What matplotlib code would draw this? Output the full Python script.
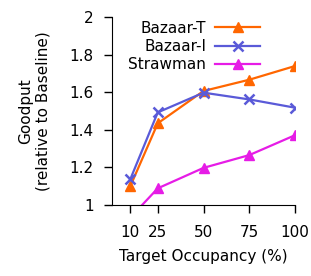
import matplotlib
matplotlib.use('Agg')
import matplotlib.pyplot as plt

occupancy = [10, 25, 50, 75, 100]
bazaar_t = [1.10, 1.435, 1.607, 1.667, 1.74]
bazaar_i = [1.137, 1.493, 1.598, 1.562, 1.518]
strawman = [0.933, 1.089, 1.198, 1.266, 1.372]

plt.rcParams['font.family'] = ['DejaVu Sans']
plt.rcParams['font.size'] = 11

fig = plt.figure(figsize=(3.11, 2.76), dpi=100)
ax = fig.add_axes([0.36, 0.257, 0.589, 0.681])

ax.plot(occupancy, bazaar_t, color='#ff6600', lw=1.6, marker='^', ms=6.5, label='Bazaar-T')
ax.plot(occupancy, bazaar_i, color='#5a5ad8', lw=1.6, marker='x', ms=7, mew=1.8, label='Bazaar-I')
ax.plot(occupancy, strawman, color='#e61ce6', lw=1.6, marker='^', ms=6.5, label='Strawman')

ax.set_xlim(0, 100)
ax.set_ylim(1, 2)
ax.set_xticks(occupancy)
ax.set_yticks([1, 1.2, 1.4, 1.6, 1.8, 2])
ax.set_yticklabels(['1', '1.2', '1.4', '1.6', '1.8', '2'])
ax.tick_params(direction='out', length=6, width=1)
ax.tick_params(axis='y', pad=7)
ax.tick_params(axis='x', pad=8)
for s in ['top', 'right']:
    ax.spines[s].set_visible(False)

ax.set_xlabel('Target Occupancy (%)', labelpad=7)
ax.set_ylabel('Goodput\n(relative to Baseline)', labelpad=14)

ax.legend(loc='upper left', bbox_to_anchor=(0.04, 1.03), frameon=False,
          markerfirst=False, handlelength=2.9, handletextpad=0.6,
          labelspacing=0.22, borderaxespad=0.2)

fig.savefig('out.png', dpi=100)
